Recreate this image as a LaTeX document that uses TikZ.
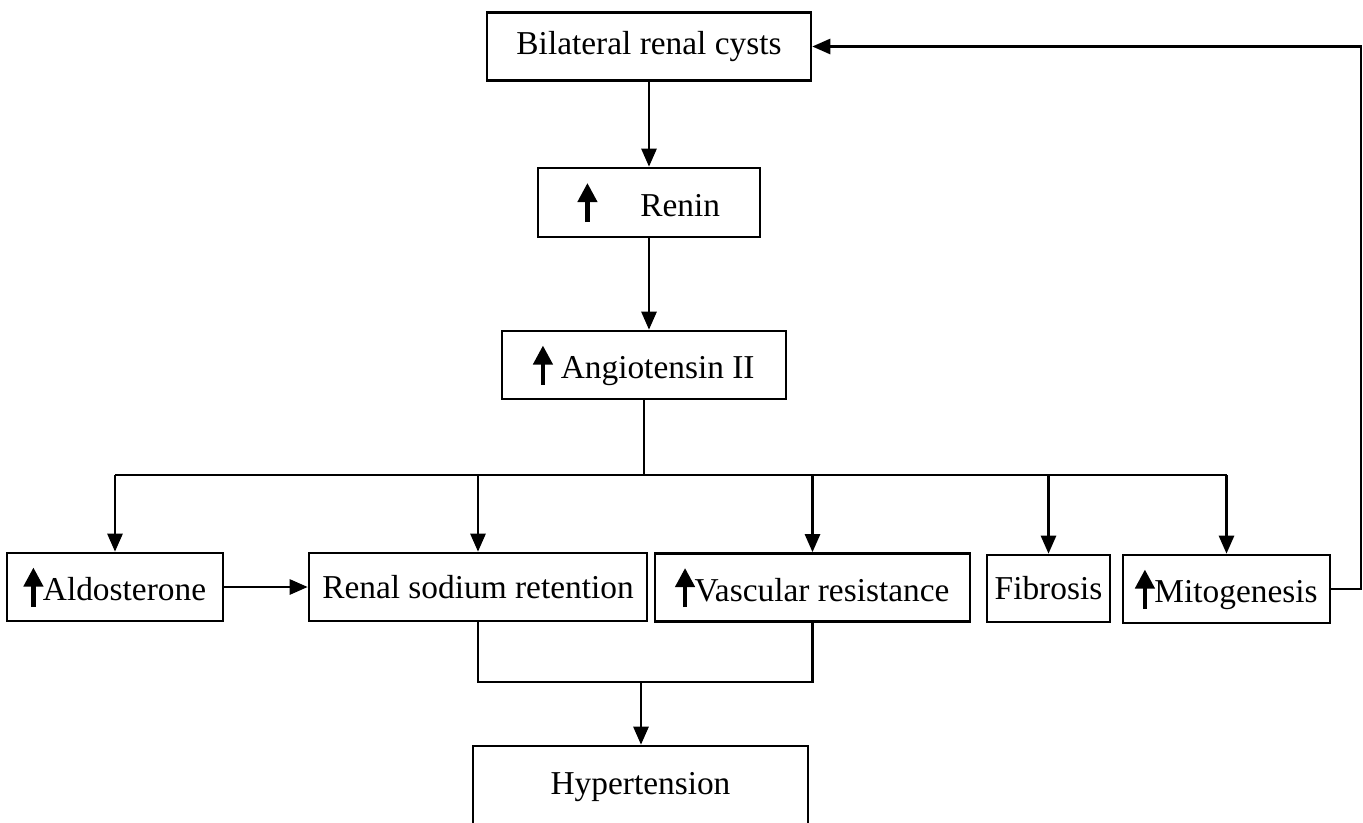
\documentclass[tikz,border=0pt]{standalone}
\usepackage{fontspec}
\setmainfont{Liberation Serif}
\usetikzlibrary{arrows.meta}

\newcommand{\upar}{\tikz[baseline=0pt]\draw[line width=2.4pt,-{Triangle[length=0.38cm,width=0.38cm]}] (0,-0.12cm) -- (0,0.66cm);}

\begin{document}
\begin{tikzpicture}[
    x=0.02cm, y=-0.02cm,
    box/.style={draw, line width=1.5pt, inner sep=0pt, minimum height=1.36cm, font=\fontsize{19}{23}\selectfont},
    link/.style={line width=1.5pt},
    arr/.style={link, -{Triangle[length=0.36cm,width=0.3cm]}}
]
\clip (0,0) rectangle (1363,822);

% Column - Top chain
\node[box, minimum width=6.48cm] (cysts) at (649,46.5) {Bilateral renal cysts};
\node[box, minimum width=4.44cm, minimum height=1.38cm] (renin) at (649,202.5) {\upar\hspace{1.3em}Renin\hspace{1.5em}};
\node[box, minimum width=5.68cm] (angio) at (644,365) {\upar\ Angiotensin II};

% Row - Effects
\node[box, minimum width=4.32cm] (aldo) at (115,587) {\upar Aldosterone};
\node[box, minimum width=6.76cm] (renal) at (478,587) {Renal sodium retention};
\node[box, minimum width=6.30cm] (vasc) at (812.5,587.5) {\upar Vascular resistance};
\node[box, minimum width=2.46cm, minimum height=1.34cm] (fib) at (1048.5,588.5) {Fibrosis};
\node[box, minimum width=4.14cm] (mito) at (1226.5,589) {\upar Mitogenesis};

% Bottom - Outcome
\node[box, minimum width=6.70cm, minimum height=1.64cm] (hyper) at (640.5,787) {Hypertension};

% Helper points
\coordinate (split) at (644,475);
\coordinate (join) at (641,682);
\coordinate (loop) at (1361,46.5);

% Connectors
\draw[arr] (cysts) -- (renin);
\draw[arr] (renin.south) -- (renin.south |- angio.north);
\draw[link] (angio) -- (split);
\draw[link] (aldo.north |- split) -- (mito.north |- split);
\foreach \n in {aldo,renal,vasc,fib,mito}
    \draw[arr] (\n.north |- split) -- (\n.north);
\draw[arr] (aldo) -- (renal);
\draw[link] (renal.south) -- (renal.south |- join) -- (vasc.south |- join) -- (vasc.south);
\draw[arr] (join) -- (join |- hyper.north);
\draw[arr] (mito.east) -| (loop) -- (cysts.east);
\end{tikzpicture}
\end{document}
